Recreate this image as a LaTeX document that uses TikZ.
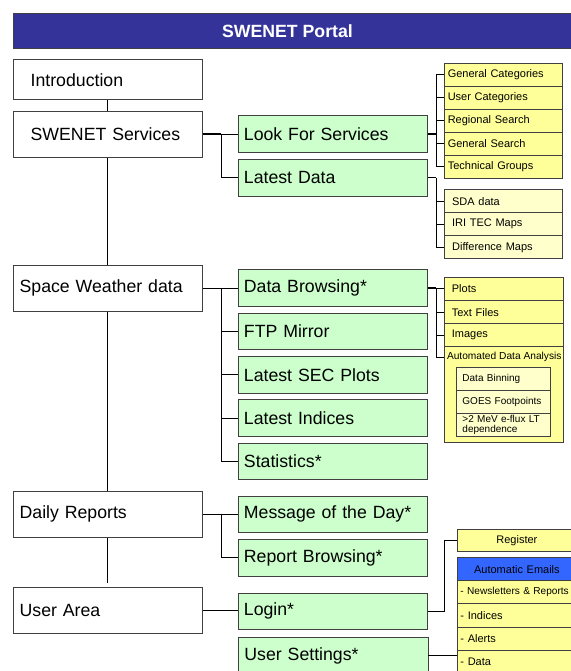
\documentclass[tikz,border=0pt]{standalone}
\usepackage{fontspec}
\setmainfont{Liberation Sans}
\definecolor{hdrfill}{HTML}{333399}
\definecolor{gfill}{HTML}{CCFFCC}
\definecolor{yfill}{HTML}{FFFF99}
\definecolor{lyfill}{HTML}{FFFFCC}
\definecolor{bfill}{HTML}{3366FF}
\definecolor{edge}{HTML}{404040}
\begin{document}
\begin{tikzpicture}[x=1pt,y=-1pt,
  base/.style={draw=edge, line width=0.9pt, anchor=north west, inner ysep=0pt, align=left},
  bigtxt/.style={font=\fontsize{17.7}{20}\selectfont},
  smalltxt/.style={font=\fontsize{11}{12}\selectfont},
  tinytxt/.style={font=\fontsize{10}{10.6}\selectfont},
  hdrbox/.style={draw=edge, line width=0.9pt, fill=hdrfill, anchor=north west, minimum width=562.3pt, minimum height=35.6pt, inner sep=0pt},
  mainA/.style={base,bigtxt,fill=white,inner xsep=17.5pt,text width=154pt},
  mainB/.style={base,bigtxt,fill=white,inner xsep=6.5pt,text width=176pt},
  gbox/.style={base,bigtxt,fill=gfill,minimum height=36.7pt,inner xsep=6pt,text width=177.5pt},
  ybox/.style={base,smalltxt,fill=yfill,minimum height=23pt,inner xsep=3.3pt,text width=111.4pt},
  sbox/.style={base,smalltxt,fill=lyfill,minimum height=23pt,inner xsep=7.7pt,text width=102.3pt},
  pbox/.style={base,smalltxt,fill=yfill,minimum height=23.3pt,inner xsep=7.4pt,text width=103.9pt},
  ibox/.style={base,tinytxt,fill=lyfill,minimum height=23.3pt,inner xsep=6.3pt,text width=81.7pt},
  ebox/.style={base,smalltxt,fill=yfill,minimum height=23.3pt,inner xsep=2.7pt,text width=112.9pt},
  cbox/.style={base,smalltxt,minimum height=22.7pt,inner xsep=0pt,text width=118.3pt,align=center},
  conn/.style={draw=black,line width=0.8pt},
  trunk/.style={draw=black,line width=1.5pt}
]
\useasboundingbox (0,0) rectangle (570,671);

% header
\node[hdrbox, label={[text=white,font=\bfseries\fontsize{17.7}{20}\selectfont,xshift=-6.85pt]center:SWENET Portal}] (hdr) at (12.7,12.7) {};

% main column
\node[mainA, minimum height=39.7pt] (intro) at (12.7,59.5) {Introduction};
\node[mainA, minimum height=46pt] (sws) at (12.7,110.7) {SWENET Services};
\node[mainB, minimum height=45.7pt] (swd) at (12.7,265) {Space Weather data};
\node[mainB, minimum height=46.3pt] (dr) at (12.7,490.7) {Daily Reports};
\node[mainB, minimum height=46pt] (ua) at (12.7,587.3) {User Area};

% green column
\node[gbox] (lfs) at (237.5,115.3) {Look For Services};
\node[gbox] (ld) at (237.5,159) {Latest Data};
\node[gbox] (db) at (237.5,269.3) {Data Browsing*};
\node[gbox] (ftp) at (237.5,312.7) {FTP Mirror};
\node[gbox] (sec) at (237.5,356) {Latest SEC Plots};
\node[gbox] (li) at (237.5,399.3) {Latest Indices};
\node[gbox] (st) at (237.5,442.7) {Statistics*};
\node[gbox] (motd) at (237.5,495.5) {Message of the Day*};
\node[gbox] (rb) at (237.5,539) {Report Browsing*};
\node[gbox] (login) at (237.5,592.5) {Login*};
\node[gbox] (us) at (238,636.7) {User Settings*};

% look for services list
\node[ybox] (gc) at (444,62.7) {General Categories};
\node[ybox] (uc) at (444,85.7) {User Categories};
\node[ybox] (rs) at (444,108.7) {Regional Search};
\node[ybox] (gs) at (444,131.7) {General Search};
\node[ybox] (tg) at (444,154.7) {Technical Groups};

% latest data list
\node[sbox] (sda) at (444,189.3) {SDA data};
\node[sbox] (iri) at (444,212.3) {IRI TEC Maps};
\node[sbox] (diff) at (444,235.3) {Difference Maps};

% data browsing list
\node[pbox] (plots) at (444,276.7) {Plots};
\node[pbox] (tf) at (444,300) {Text Files};
\node[pbox, minimum height=22.7pt] (img) at (444,323.3) {Images};
\node[pbox, minimum height=95.7pt] (ada) at (444,346) {};
\node[anchor=west, inner sep=0pt, font=\fontsize{10.2}{11}\selectfont] (adalbl) at (446.8,357) {Automated Data Analysis};
\node[ibox] (bin) at (455.7,366.7) {Data Binning};
\node[ibox, minimum height=22.7pt] (goes) at (455.7,390) {GOES Footpoints};
\node[ibox] (mev) at (455.7,412.7) {>2 MeV e-flux LT\\dependence};

% user area list
\node[cbox, fill=yfill, minimum height=22.6pt] (reg) at (457.3,528.7) {Register};
\node[cbox, fill=bfill] (ae) at (457.3,557.3) {Automatic Emails};
\node[ebox, font=\fontsize{10.1}{11}\selectfont] (nl) at (457.3,580) {- Newsletters \& Reports};
\node[ebox] (ind) at (457.3,603.3) {- Indices};
\node[ebox] (al) at (457.3,626.5) {- Alerts};
\node[ebox] (dat) at (457.3,649.6) {- Data};

% spine
\draw[conn] (intro.south) -- (sws.north);
\draw[conn] (sws.south) -- (swd.north);
\draw[conn] (swd.south) -- (dr.north);
\draw[conn] (dr.south) -- ([yshift=4.5pt]ua.north);

% SWENET Services branches
\draw[trunk] (sws.east) -- ([xshift=18.3pt]sws.east);
\draw[conn] ([xshift=18.3pt]sws.east) |- (lfs.west);
\draw[conn] ([xshift=18.3pt]sws.east) |- (ld.west);

% Space Weather data branches
\draw[trunk] (swd.east) -- ([xshift=18.8pt]swd.east);
\foreach \n in {db,ftp,sec,li,st}
  \draw[conn] ([xshift=18.8pt]swd.east) |- (\n.west);

% Daily Reports branches
\draw[trunk] (dr.east) -- ([xshift=18.3pt]dr.east);
\draw[conn] ([xshift=18.3pt]dr.east) |- (motd.west);
\draw[conn] ([xshift=18.3pt]dr.east) |- (rb.west);

% User Area
\draw[conn] (ua.east) -- (ua.east -| login.west);

% Look For Services list
\draw[trunk] (lfs.east) -- ([xshift=8.5pt]lfs.east);
\foreach \n in {gc,uc,rs,gs,tg}
  \draw[conn] ([xshift=8.5pt]lfs.east) |- (\n.west);

% Latest Data list
\foreach \n in {sda,iri,diff}
  \draw[conn] ([xshift=8.5pt]ld.east) |- (\n.west);
\draw[conn] (ld.east) -- ([xshift=8.5pt]ld.east);

% Data Browsing list
\draw[trunk] (db.east) -- ([xshift=8.5pt]db.east);
\foreach \n in {plots,tf,img}
  \draw[conn] ([xshift=8.5pt]db.east) |- (\n.west);
\draw[conn] ([xshift=8.5pt]db.east) |- (ada.west |- adalbl.west);

% Login -> Register
\draw[conn] (login.east) -- ([xshift=16.5pt]login.east) |- (reg.west);
% User Settings -> emails
\draw[conn] (us.east) -- (us.east -| dat.west);
\end{tikzpicture}
\end{document}
